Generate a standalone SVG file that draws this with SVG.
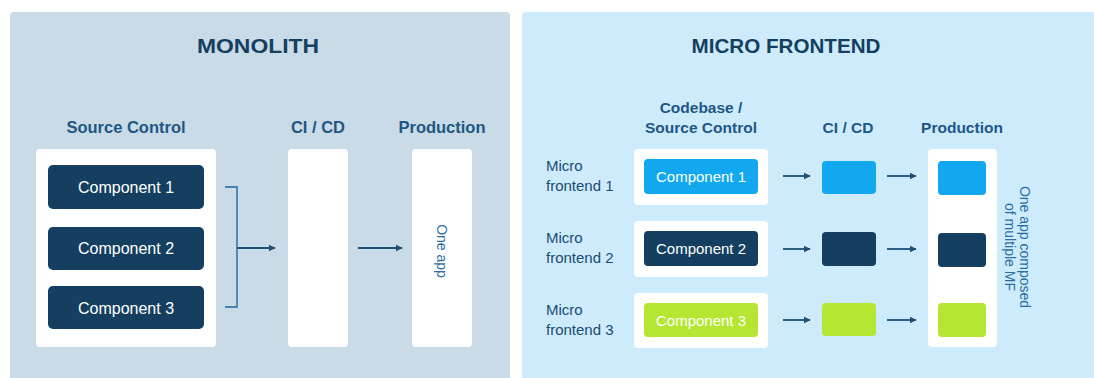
<svg xmlns="http://www.w3.org/2000/svg" width="1094" height="378" viewBox="0 0 1094 378">
<style>
.title{font-family:"Liberation Sans",Arial,sans-serif;font-weight:bold;font-size:21px;fill:#143f60;text-anchor:middle}
.hdr{font-family:"Liberation Sans",Arial,sans-serif;font-weight:bold;font-size:16.5px;fill:#1e5784;text-anchor:middle}
.hdr2{font-family:"Liberation Sans",Arial,sans-serif;font-weight:bold;font-size:15.5px;fill:#1e5784;text-anchor:middle}
.comp{font-family:"Liberation Sans",Arial,sans-serif;font-size:16px;fill:#ffffff;text-anchor:middle;dominant-baseline:central}
.comp2{font-family:"Liberation Sans",Arial,sans-serif;font-size:15px;fill:#ffffff;text-anchor:middle;dominant-baseline:central}
.lbl{font-family:"Liberation Sans",Arial,sans-serif;font-size:15px;fill:#1a4d75}
.rot{font-family:"Liberation Sans",Arial,sans-serif;font-size:14px;fill:#2a6ea3;text-anchor:middle;dominant-baseline:central}
.white{fill:#ffffff}
.navy{fill:#143f60}
.sky{fill:#12a8ef}
.lime{fill:#b4e632}
.arrow{stroke:#1d4f77;stroke-width:1.8;fill:none;marker-end:url(#ah)}
.bracket{stroke:#4683b3;stroke-width:1.8;fill:none}
</style>
<defs>
<marker id="ah" viewBox="0 0 10 10" refX="9" refY="5" markerWidth="4" markerHeight="4" orient="auto" markerUnits="strokeWidth">
<path d="M0,0 L10,5 L0,10 z" fill="#1d4f77"/>
</marker>
</defs>
<rect x="0" y="0" width="1094" height="378" fill="#ffffff"/>

<g id="panel-monolith">
<rect x="10" y="12" width="500" height="380" rx="4" fill="#c9dbe6"/>
<text class="title" x="258" y="53" textLength="122" lengthAdjust="spacingAndGlyphs">MONOLITH</text>
<text class="hdr" x="126" y="133">Source Control</text>
<text class="hdr" x="318" y="133">CI / CD</text>
<text class="hdr" x="442" y="133">Production</text>
</g>

<g id="mono-source">
<rect class="white" x="36" y="149" width="180" height="198" rx="4"/>
</g>
<g id="mono-comp1">
<rect class="navy" x="48" y="165" width="156" height="44" rx="5"/>
<text class="comp" x="126" y="187">Component 1</text>
</g>
<g id="mono-comp2">
<rect class="navy" x="48" y="227" width="156" height="43" rx="5"/>
<text class="comp" x="126" y="248">Component 2</text>
</g>
<g id="mono-comp3">
<rect class="navy" x="48" y="286" width="156" height="43" rx="5"/>
<text class="comp" x="126" y="308">Component 3</text>
</g>
<g id="mono-cicd">
<rect class="white" x="288" y="149" width="60" height="198" rx="4"/>
</g>
<g id="mono-prod">
<rect class="white" x="412" y="149" width="60" height="198" rx="4"/>
<text class="rot" transform="translate(442,251) rotate(90)">One app</text>
</g>

<g id="panel-mf">
<rect x="522" y="12" width="580" height="380" rx="4" fill="#cdebfb"/>
<text class="title" x="786" y="53" textLength="189" lengthAdjust="spacingAndGlyphs">MICRO FRONTEND</text>
<text class="hdr2" x="701" y="113">Codebase /</text>
<text class="hdr2" x="701" y="133">Source Control</text>
<text class="hdr2" x="848" y="133">CI / CD</text>
<text class="hdr2" x="962" y="133">Production</text>
</g>

<g id="mf-label1"><text class="lbl" x="546" y="171">Micro</text><text class="lbl" x="546" y="191">frontend 1</text></g>
<g id="mf-label2"><text class="lbl" x="546" y="243">Micro</text><text class="lbl" x="546" y="263">frontend 2</text></g>
<g id="mf-label3"><text class="lbl" x="546" y="315">Micro</text><text class="lbl" x="546" y="335">frontend 3</text></g>

<g id="mf-src1">
<rect class="white" x="634" y="149" width="134" height="56" rx="4"/>
<rect class="sky" x="644" y="159" width="114" height="35" rx="4"/>
<text class="comp2" x="701" y="176.5">Component 1</text>
</g>
<g id="mf-src2">
<rect class="white" x="634" y="221" width="134" height="56" rx="4"/>
<rect class="navy" x="644" y="231" width="114" height="35" rx="4"/>
<text class="comp2" x="701" y="248.5">Component 2</text>
</g>
<g id="mf-src3">
<rect class="white" x="634" y="293" width="134" height="55" rx="4"/>
<rect class="lime" x="644" y="303" width="114" height="34" rx="4"/>
<text class="comp2" x="701" y="320">Component 3</text>
</g>

<g id="mf-ci1"><rect class="sky" x="822" y="161" width="54" height="33" rx="4"/></g>
<g id="mf-ci2"><rect class="navy" x="822" y="232" width="54" height="34" rx="4"/></g>
<g id="mf-ci3"><rect class="lime" x="822" y="303" width="54" height="33" rx="4"/></g>

<g id="mf-prod">
<rect class="white" x="928" y="149" width="69" height="198" rx="4"/>
<rect class="sky" x="938" y="161" width="48" height="34" rx="4"/>
<rect class="navy" x="938" y="233" width="48" height="34" rx="4"/>
<rect class="lime" x="938" y="303" width="48" height="34" rx="4"/>
</g>
<g id="mf-prod-label">
<text class="rot" transform="translate(1025,247) rotate(90)">One app composed</text>
<text class="rot" transform="translate(1010,247) rotate(90)">of multiple MF</text>
</g>

<g id="connectors">
<path class="bracket" d="M225,187 H237 V307 H225"/>
<path class="arrow" d="M237,248 H275"/>
<path class="arrow" d="M358,248 H402"/>
<path class="arrow" d="M783,176 H810"/>
<path class="arrow" d="M783,249 H810"/>
<path class="arrow" d="M783,320 H810"/>
<path class="arrow" d="M887,176 H916"/>
<path class="arrow" d="M887,249 H916"/>
<path class="arrow" d="M887,320 H916"/>
</g>
</svg>
